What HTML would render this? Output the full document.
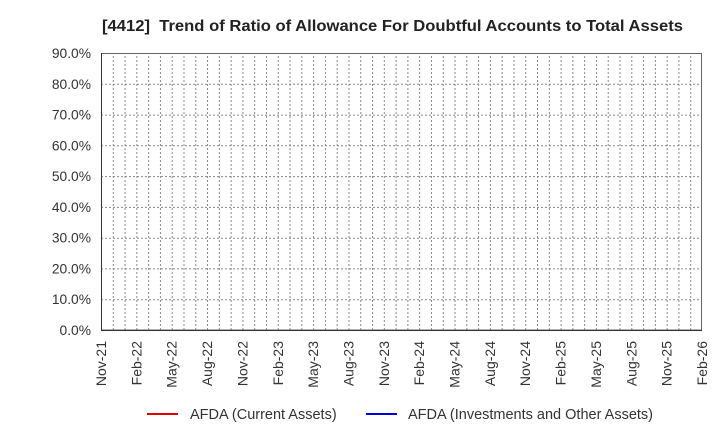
<!DOCTYPE html>
<html><head><meta charset="utf-8"><style>
html,body{margin:0;padding:0;background:#fff;}
svg{display:block;font-family:"Liberation Sans",Arial,sans-serif;}
</style></head><body>
<svg width="720" height="440" viewBox="0 0 720 440">
<defs>
<pattern id="vg" x="101" y="0" width="11.7843" height="440" patternUnits="userSpaceOnUse">
<line x1="0.5" y1="0" x2="0.5" y2="440" stroke="#888" stroke-width="1" stroke-dasharray="2,2"/>
</pattern>
</defs>
<text x="102" y="31" font-size="15.5" font-weight="bold" fill="#222" xml:space="preserve" textLength="581" lengthAdjust="spacingAndGlyphs">[4412]  Trend of Ratio of Allowance For Doubtful Accounts to Total Assets</text>
<rect x="101" y="53" width="601" height="277" fill="url(#vg)"/>
<g stroke="#888" stroke-width="1" stroke-dasharray="2,2">
<line x1="101" x2="702" y1="299.7" y2="299.7"/>
<line x1="101" x2="702" y1="268.9" y2="268.9"/>
<line x1="101" x2="702" y1="238.2" y2="238.2"/>
<line x1="101" x2="702" y1="207.4" y2="207.4"/>
<line x1="101" x2="702" y1="176.6" y2="176.6"/>
<line x1="101" x2="702" y1="145.8" y2="145.8"/>
<line x1="101" x2="702" y1="115.1" y2="115.1"/>
<line x1="101" x2="702" y1="84.3" y2="84.3"/>
</g>
<rect x="101.5" y="53.5" width="600" height="276.5" fill="none" stroke="#666" stroke-width="1"/>
<line x1="101.5" y1="53" x2="101.5" y2="330.5" stroke="#333"/>
<line x1="101" y1="330.5" x2="702" y2="330.5" stroke="#333"/>
<g font-size="13.8" fill="#333" text-anchor="end">
<text x="91" y="335">0.0%</text>
<text x="91" y="304.2">10.0%</text>
<text x="91" y="273.4">20.0%</text>
<text x="91" y="242.7">30.0%</text>
<text x="91" y="211.9">40.0%</text>
<text x="91" y="181.1">50.0%</text>
<text x="91" y="150.3">60.0%</text>
<text x="91" y="119.6">70.0%</text>
<text x="91" y="88.8">80.0%</text>
<text x="91" y="58">90.0%</text>
</g>
<g font-size="14" fill="#333" text-anchor="end">
<text transform="translate(106,341) rotate(-90)">Nov-21</text>
<text transform="translate(141.4,341) rotate(-90)">Feb-22</text>
<text transform="translate(176.7,341) rotate(-90)">May-22</text>
<text transform="translate(212.1,341) rotate(-90)">Aug-22</text>
<text transform="translate(247.4,341) rotate(-90)">Nov-22</text>
<text transform="translate(282.8,341) rotate(-90)">Feb-23</text>
<text transform="translate(318.1,341) rotate(-90)">May-23</text>
<text transform="translate(353.5,341) rotate(-90)">Aug-23</text>
<text transform="translate(388.8,341) rotate(-90)">Nov-23</text>
<text transform="translate(424.2,341) rotate(-90)">Feb-24</text>
<text transform="translate(459.5,341) rotate(-90)">May-24</text>
<text transform="translate(494.9,341) rotate(-90)">Aug-24</text>
<text transform="translate(530.2,341) rotate(-90)">Nov-24</text>
<text transform="translate(565.6,341) rotate(-90)">Feb-25</text>
<text transform="translate(600.9,341) rotate(-90)">May-25</text>
<text transform="translate(636.3,341) rotate(-90)">Aug-25</text>
<text transform="translate(671.6,341) rotate(-90)">Nov-25</text>
<text transform="translate(707,341) rotate(-90)">Feb-26</text>
</g>
<line x1="147" y1="414" x2="178" y2="414" stroke="#e00000" stroke-width="2"/>
<text x="190" y="419" font-size="14.5" fill="#333">AFDA (Current Assets)</text>
<line x1="366" y1="414" x2="397" y2="414" stroke="#0000dd" stroke-width="2"/>
<text x="408" y="419" font-size="14.5" fill="#333">AFDA (Investments and Other Assets)</text>
</svg>
</body></html>
